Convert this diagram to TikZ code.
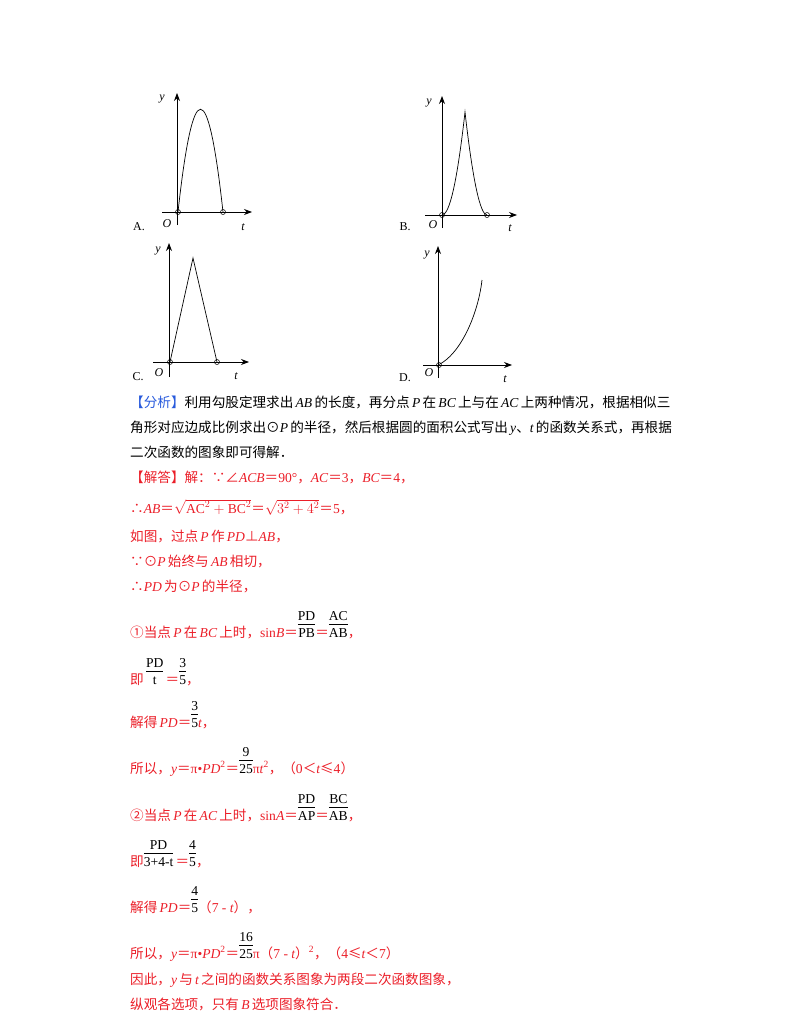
\documentclass[tikz,border=0pt]{standalone}
\usepackage{fontspec}
\usepackage{amsmath,amssymb}
\setmainfont{Noto Sans CJK SC}
\newfontfamily\lat{Liberation Serif}
\newcommand\I[1]{{\lat\itshape #1}}
\newcommand\R[1]{{\lat #1}}
\newcommand\fr[2]{\begin{tabular}[b]{@{}c@{}}\lat #1\\[-1pt]\hline\rule{0pt}{13pt}\lat #2\end{tabular}}
\usetikzlibrary{arrows.meta}
\definecolor{ans}{RGB}{235,30,40}
\definecolor{hd}{RGB}{40,90,220}
\begin{document}
\begin{tikzpicture}[x=1pt,y=-1pt,
  ax/.style={line width=0.8pt,-{Stealth[length=8pt,width=6pt]}},
  crv/.style={line width=0.7pt},
  dot/.style={circle,draw,inner sep=0pt,minimum size=5pt,line width=0.5pt},
  lab/.style={font=\lat\itshape\fontsize{12}{12}\selectfont,inner sep=0pt},
  opt/.style={font=\lat\fontsize{12}{12}\selectfont,inner sep=0pt},
  ln/.style={anchor=base west,inner sep=0pt,font=\fontsize{13.6}{13.6}\selectfont},
  an/.style={ln,text=ans}]
\useasboundingbox (0,0) rectangle (800,1035);
% Graph A
\draw[ax] (177,225) -- (177,93);
\draw[ax] (162,212) -- (252,212);
\draw[crv] (178,212) .. controls (193,75) and (208,75) .. (223,212);
\node[dot] (a1) at (178,212) {}; \node[dot] (a2) at (223,212) {};
\node[lab] (ay) at (162,99) {y}; \node[lab] (ao) at (167,224) {O}; \node[lab] (at) at (243,227) {t};
\node[opt] (aA) at (139,227) {A.};
% Graph B
\draw[ax] (442,228) -- (442,96);
\draw[ax] (425,215) -- (517,215);
\draw[crv] (442,215) .. controls (449.7,215) and (457.3,180.7) .. (465,112) .. controls (472.7,180.7) and (480.3,215) .. (487,215);
\node[dot] (b1) at (442,215) {}; \node[dot] (b2) at (487,215) {};
\node[lab] (by) at (429,103) {y}; \node[lab] (bo) at (433,225) {O}; \node[lab] (bt) at (510,228) {t};
\node[opt] (bB) at (405,227) {B.};
% Graph C
\draw[ax] (169,377) -- (169,243);
\draw[ax] (153,362) -- (249,362);
\draw[crv] (170,362) -- (193,258) -- (217,362);
\node[dot] (c1) at (170,362) {}; \node[dot] (c2) at (217,362) {};
\node[lab] (cy) at (158,251) {y}; \node[lab] (co) at (159,373) {O}; \node[lab] (ct) at (236,376) {t};
\node[opt] (cC) at (138,377) {C.};
% Graph D
\draw[ax] (438,378) -- (438,246);
\draw[ax] (423,365) -- (512,365);
\draw[crv] (438,365) .. controls (460,355) and (478,315) .. (482,280);
\node[dot] (d1) at (439,365) {};
\node[lab] (dy) at (427,255) {y}; \node[lab] (do) at (429,373) {O}; \node[lab] (dt) at (505,379) {t};
\node[opt] (dD) at (405,378) {D.};
% text
\node[ln] (t1) at (130,407) {{\color{hd}【分析】}利用勾股定理求出\,\I{AB}\,的长度，再分点\,\I{P}\,在\,\I{BC}\,上与在\,\I{AC}\,上两种情况，根据相似三};
\node[ln] (t2) at (130,432) {角形对应边成比例求出⊙\I{P}\,的半径，然后根据圆的面积公式写出\,\I{y}、\I{t}\,的函数关系式，再根据};
\node[ln] (t3) at (130,457) {二次函数的图象即可得解．};
\node[an] (t4) at (130,482) {【解答】解：∵∠\I{ACB}＝\R{90°}，\I{AC}＝\R{3}，\I{BC}＝\R{4}，};
\node[an] (t5) at (130,513) {∴\I{AB}＝$\sqrt{\text{\lat AC}^{2}+\text{\lat BC}^{2}}$＝$\sqrt{3^{2}+4^{2}}$＝\R{5}，};
\node[an] (t6) at (130,541) {如图，过点\,\I{P}\,作\,\I{PD}⊥\I{AB}，};
\node[an] (t7) at (130,566) {∵⊙\I{P}\,始终与\,\I{AB}\,相切，};
\node[an] (t8) at (130,591) {∴\I{PD}\,为⊙\I{P}\,的半径，};
\node[an] (t9) at (130,637) {①当点\,\I{P}\,在\,\I{BC}\,上时，\R{sin}\I{B}＝{\color{black}\fr{PD}{PB}}＝{\color{black}\fr{AC}{AB}}，};
\node[an] (t10) at (130,684) {即\,{\color{black}\fr{PD}{t}}\,＝{\color{black}\fr{3}{5}}，};
\node[an] (t11) at (130,727) {解得\,\I{PD}＝{\color{black}\fr{3}{5}}\I{t}，};
\node[an] (t12) at (130,773) {所以，\I{y}＝\R{π•}\I{PD}\R{\textsuperscript{2}}＝{\color{black}\fr{9}{25}}\R{π}\I{t}\R{\textsuperscript{2}}，（\R{0}＜\I{t}≤\R{4}）};
\node[an] (t13) at (130,820) {②当点\,\I{P}\,在\,\I{AC}\,上时，\R{sin}\I{A}＝{\color{black}\fr{PD}{AP}}＝{\color{black}\fr{BC}{AB}}，};
\node[an] (t14) at (130,866) {即{\color{black}\fr{PD}{3+4-t}}\,＝{\color{black}\fr{4}{5}}，};
\node[an] (t15) at (130,912) {解得\,\I{PD}＝{\color{black}\fr{4}{5}}（\R{7 - }\I{t}），};
\node[an] (t16) at (130,958) {所以，\I{y}＝\R{π•}\I{PD}\R{\textsuperscript{2}}＝{\color{black}\fr{16}{25}}\R{π}（\R{7 - }\I{t}）\R{\textsuperscript{2}}，（\R{4}≤\I{t}＜\R{7}）};
\node[an] (t17) at (130,984) {因此，\I{y}\,与\,\I{t}\,之间的函数关系图象为两段二次函数图象，};
\node[an] (t18) at (130,1009) {纵观各选项，只有\,\I{B}\,选项图象符合．};
\end{tikzpicture}
\end{document}
